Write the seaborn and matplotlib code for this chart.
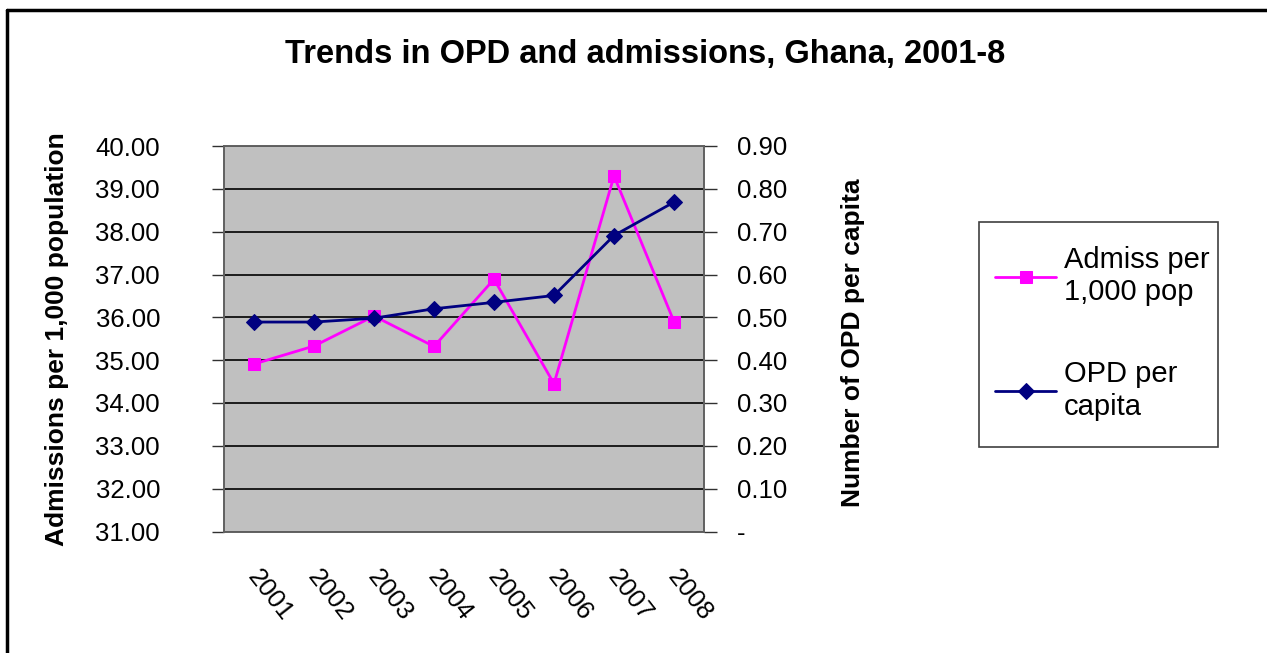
import pandas as pd
import seaborn as sns
import matplotlib.pyplot as plt
from matplotlib.lines import Line2D
from matplotlib.patches import Rectangle
from matplotlib.transforms import ScaledTranslation, blended_transform_factory

years = ['2001', '2002', '2003', '2004', '2005', '2006', '2007', '2008']
admiss_per_1000 = [34.91, 35.33, 36.03, 35.32, 36.89, 34.45, 39.30, 35.90]
opd_per_capita = [0.489, 0.489, 0.498, 0.520, 0.535, 0.551, 0.691, 0.769]

left_ticks = [31, 32, 33, 34, 35, 36, 37, 38, 39, 40]
right_ticks = [0.0, 0.1, 0.2, 0.3, 0.4, 0.5, 0.6, 0.7, 0.8, 0.9]

df = pd.DataFrame({'pos': range(len(years)), 'year': years,
                   'admiss': admiss_per_1000, 'opd': opd_per_capita})

sns.set_style('white')
plt.rcParams['font.family'] = ['Liberation Sans', 'DejaVu Sans']
plt.rcParams['text.color'] = 'black'
plt.rcParams['axes.labelcolor'] = 'black'
plt.rcParams['xtick.color'] = 'black'
plt.rcParams['ytick.color'] = 'black'

W, H = 1267, 653
fig = plt.figure(figsize=(W / 100, H / 100), dpi=100)

# chart area border (only top and left visible in the reference)
fig.add_artist(Line2D([7 / W, 7 / W], [0, 1 - 10 / H], color='black', lw=2.5))
fig.add_artist(Line2D([7 / W, 1], [1 - 10 / H, 1 - 10 / H], color='black', lw=2.5))

ax = fig.add_axes([224 / W, 121.5 / H, 480 / W, 385.5 / H])
ax.set_facecolor('#C0C0C0')
ax2 = ax.twinx()

sns.lineplot(data=df, x='pos', y='admiss', ax=ax, color='#FF00FF', marker='s',
             markersize=9, markeredgecolor='#FF00FF', linewidth=2, zorder=3,
             label='Admiss per\n1,000 pop', legend=False)
sns.lineplot(data=df, x='pos', y='opd', ax=ax2, color='#000080', marker='D',
             markersize=8, markeredgecolor='#000080', linewidth=2, zorder=3,
             label='OPD per\ncapita', legend=False)

ax.set_xlim(-0.5, len(years) - 0.5)
ax.set_ylim(31, 40)
ax2.set_ylim(0, 0.9)

ax.set_yticks(left_ticks)
ax.set_yticklabels([f'{v:.2f}' for v in left_ticks], fontsize=18.5)
ax2.set_yticks(right_ticks)
ax2.set_yticklabels(['-' if v == 0 else f'{v:.2f}' for v in right_ticks], fontsize=18.5)

# ticks at category boundaries, year labels rotated below each category
ax.set_xticks([i - 0.5 for i in range(len(years) + 1)])
ax.set_xticklabels([])
ax.tick_params(axis='x', length=8, width=1, color='#606060', direction='out')
trans = blended_transform_factory(ax.transData, ax.transAxes) + \
    ScaledTranslation(8 / 100, -34 / 100, fig.dpi_scale_trans)
for i, yr in enumerate(years):
    ax.text(i, 0, yr, transform=trans, fontsize=18.5, rotation=-52,
            ha='left', va='top', rotation_mode='anchor')

ax.tick_params(axis='y', length=9, width=1, color='#303030', direction='out', pad=37)
ax2.tick_params(axis='y', length=9, width=1, color='#303030', direction='out', pad=15)

ax.yaxis.grid(True, color='black', linewidth=1.2)
ax.set_axisbelow(True)
for a in (ax, ax2):
    for s in a.spines.values():
        s.set_color('#606060')
        s.set_linewidth(1.2)

ax.set_xlabel('')
ax.set_ylabel('Admissions per 1,000 population', fontsize=19, fontweight='bold')
ax2.set_ylabel('Number of OPD per capita', fontsize=19, fontweight='bold')
ax.yaxis.set_label_coords((57 - 224) / 480, 0.5)
ax2.yaxis.set_label_coords((853 - 224) / 480, 0.49)
ax.yaxis.label.set_va('center')
ax2.yaxis.label.set_va('center')

fig.text(645 / W, 1 - 55 / H, 'Trends in OPD and admissions, Ghana, 2001-8',
         fontsize=23.5, fontweight='bold', ha='center', va='center')

# legend box drawn at the reference position, entries placed inside it
fig.add_artist(Rectangle((979 / W, 1 - 447 / H), (1218 - 979) / W, (447 - 222) / H,
                         transform=fig.transFigure, fill=False,
                         edgecolor='#404040', linewidth=1.2))
handles = ax.get_lines()[:1] + ax2.get_lines()[:1]
leg = fig.legend(handles, [h.get_label() for h in handles],
                 loc='upper left', bbox_to_anchor=(979 / W, 1 - 230 / H),
                 fontsize=21, frameon=False,
                 handlelength=2.1, handletextpad=0.25, labelspacing=1.85,
                 borderpad=0.55, borderaxespad=0)

fig.savefig('out.png', dpi=100)
